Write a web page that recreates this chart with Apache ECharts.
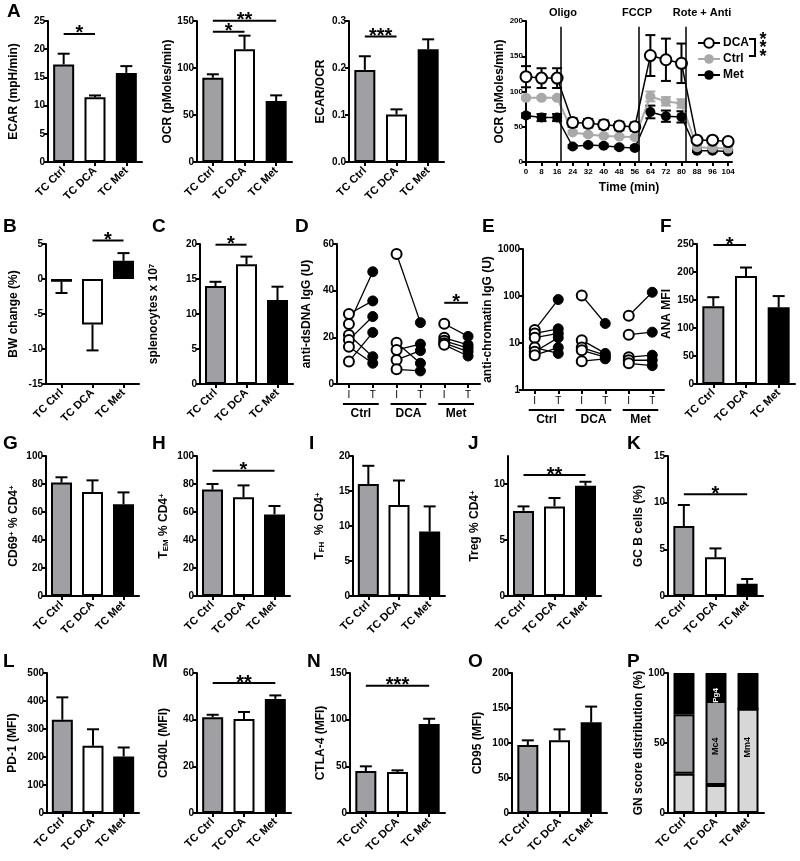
<!DOCTYPE html>
<html><head><meta charset="utf-8">
<script src="https://cdn.jsdelivr.net/npm/echarts@6/dist/echarts.min.js"></script>
<style>html,body{margin:0;padding:0;background:#fff}#c{width:800px;height:861px}</style>
</head><body><div id="c"></div>
<script>
const FONT = 'Liberation Sans, Arial, Helvetica, sans-serif';

// ---------- DATA ----------
const groups = ['TC Ctrl', 'TC DCA', 'TC Met'];

// A: ECAR, OCR, ECAR/OCR (mean, mean+SEM)
const ecarMean = [17.3, 11.5, 15.8];
const ecarUpper = [19.2, 11.8, 17.0];
const ecarSig = [[0, 1, 22.7, '*']];
const ocrMean = [89.7, 119.9, 64.9];
const ocrUpper = [93.3, 134.4, 70.9];
const ocrSig = [[0, 1, 138.6, '*'], [0, 2, 150.3, '**']];
const ratioMean = [0.196, 0.101, 0.240];
const ratioUpper = [0.225, 0.112, 0.261];
const ratioSig = [[0, 1, 0.267, '***']];

// A: Seahorse time course
const timePoints = [0, 8, 16, 24, 32, 40, 48, 56, 64, 72, 80, 88, 96, 104];
const dcaOcr = [121, 119, 119, 56, 55, 53, 51, 50, 151, 145, 140, 31, 31, 29];
const dcaSem = [15, 14, 14, 6, 6, 6, 6, 6, 29, 30, 28, 3, 3, 3];
const ctrlOcr = [91, 91, 91, 42, 39, 37, 36, 35, 93, 86, 83, 21, 20, 19];
const ctrlSem = [2, 2, 2, 2, 2, 2, 2, 2, 7, 6, 6, 2, 2, 2];
const metOcr = [66, 63, 63, 22, 24, 23, 21, 20, 71, 65, 64, 16, 16, 15];
const metSem = [3, 5, 5, 2, 2, 2, 2, 2, 9, 8, 8, 2, 2, 2];
const injectionTimes = [18, 58, 82];
const injectionNames = ['Oligo', 'FCCP', 'Rote + Anti'];
const timeLegend = ['DCA', 'Ctrl', 'Met'];

// B: body weight change
const bwMean = [-0.4, -6.5, 2.6];
const bwErrEnd = [-2.0, -10.2, 3.7];
const bwSig = [[1, 2, 5.5, '*']];
// C: splenocytes
const spleenMean = [14.0, 17.1, 12.0];
const spleenUpper = [14.6, 18.2, 13.9];
const spleenSig = [[0, 1, 19.9, '*']];
// D: anti-dsDNA (initial I, terminal T) per mouse
const pairCats = ['I', 'T', 'I', 'T', 'I', 'T'];
const pairGroups = ['Ctrl', 'DCA', 'Met'];
const dsdnaCtrlI = [30, 25.7, 21, 18.9, 16, 9.6];
const dsdnaCtrlT = [35.6, 48.1, 11.7, 28.9, 8.9, 22.1];
const dsdnaDcaI = [55.7, 17.7, 14.6, 10.3, 6.3];
const dsdnaDcaT = [26.3, 8.9, 17.1, 14.3, 5.6];
const dsdnaMetI = [25.8, 19.8, 18.5, 17.5, 16.8];
const dsdnaMetT = [20.4, 16.8, 15.4, 13.9, 12.0];
const dsdnaSig = [[4, 5, 34.8, '*']];
// E: anti-chromatin (log)
const chromCtrlI = [19, 16, 13, 8, 6.5, 5.5];
const chromCtrlT = [84, 20, 16, 6, 13, 8];
const chromDcaI = [103, 11.5, 8, 7, 4.1];
const chromDcaT = [26, 6, 5.5, 5, 4.6];
const chromMetI = [38, 15, 5, 4.3, 3.7];
const chromMetT = [120, 17, 5.5, 4.3, 3.3];
// F: ANA MFI
const anaMean = [139, 193, 137];
const anaUpper = [155, 208, 157];
const anaSig = [[0, 1, 248, '*']];
// G-K
const cd69Mean = [81, 74.3, 65.5];
const cd69Upper = [84.8, 82.6, 74];
const temMean = [76, 70.5, 58.3];
const temUpper = [80, 79, 64.3];
const temSig = [[0, 2, 89.5, '*']];
const tfhMean = [16, 13, 9.2];
const tfhUpper = [18.6, 16.5, 12.8];
const tregMean = [7.6, 8.0, 9.85];
const tregUpper = [8.0, 8.75, 10.2];
const tregSig = [[0, 2, 10.8, '**']];
const gcbMean = [7.5, 4.15, 1.3];
const gcbUpper = [9.75, 5.1, 1.82];
const gcbSig = [[0, 2, 10.9, '*']];
// L-P
const pd1Mean = [333, 240, 202];
const pd1Upper = [413, 299, 234];
const cd40lMean = [41, 40.3, 48.9];
const cd40lUpper = [42.1, 43.3, 50.4];
const cd40lSig = [[0, 2, 55.7, '**']];
const ctla4Mean = [45, 43.9, 95.4];
const ctla4Upper = [50, 45.7, 101];
const ctla4Sig = [[0, 2, 136.4, '***']];
const cd95Mean = [97, 104, 129.5];
const cd95Upper = [103.8, 119.5, 152];
const gnLow = [28, 20, 74.5];
const gnMid = [42.5, 60, 0];
const gnHigh = [29.5, 20, 25.5];
const gnLowLabels = ['', '', 'Mm4'];
const gnMidLabels = ['', 'Mc4', ''];
const gnHighLabels = ['', 'Pg4', ''];

// ---------- STYLE ----------
const FILL = ['#9f9fa4', '#ffffff', '#000000'];
const GN_COL = ['#d7d7d7', '#9f9fa4', '#000000'];
const AXL = {show: true, onZero: false, lineStyle: {color: '#000', width: 2}};
const TICK = {show: true, length: 4, lineStyle: {color: '#000', width: 2}};
const LBL = {color: '#000', fontSize: 10, fontWeight: 'bold', fontFamily: FONT, margin: 3};
const NAME = {color: '#000', fontSize: 12, fontWeight: 'bold', fontFamily: FONT,
  rich: {
    sup: {fontSize: 8, fontWeight: 'bold', fontFamily: FONT, verticalAlign: 'top', color: '#000'},
    sub: {fontSize: 8, fontWeight: 'bold', fontFamily: FONT, verticalAlign: 'bottom', color: '#000'}
  }};

const grids = [], xAxes = [], yAxes = [], series = [];
function addGrid(g) { grids.push(Object.assign({outerBoundsMode: 'none', containLabel: false}, g)); return grids.length - 1; }

function catX(gi, data, extra) {
  return Object.assign({gridIndex: gi, type: 'category', data: data, axisLine: AXL,
    axisTick: {show: true, alignWithLabel: true, length: 4, lineStyle: {color: '#000', width: 2}},
    axisLabel: {rotate: 45, interval: 0, fontSize: 11, fontWeight: 'bold', color: '#000', fontFamily: FONT, margin: 7},
    splitLine: {show: false}}, extra || {});
}
function valY(gi, p) {
  return {gridIndex: gi, type: p.log ? 'log' : 'value', logBase: 10, min: p.min, max: p.max, interval: p.interval,
    axisLine: AXL, axisTick: TICK, splitLine: {show: false},
    axisLabel: Object.assign({}, LBL, {formatter: p.fmt || (v => String(v)), showMaxLabel: p.hideMax ? false : null, fontSize: p.lblSize || 10}),
    name: p.name, nameLocation: 'middle', nameGap: p.nameGap, nameTextStyle: NAME};
}

function errSeries(gi, mean, upper, half) {
  half = half || 6;
  return {type: 'custom', xAxisIndex: gi, yAxisIndex: gi, z: 3, silent: true,
    data: mean.map((m, k) => [k, m, upper[k]]), encode: {x: 0, y: [1, 2]},
    renderItem: function (params, api) {
      const a = api.coord([api.value(0), api.value(1)]);
      const b = api.coord([api.value(0), api.value(2)]);
      return {type: 'group', children: [
        {type: 'line', shape: {x1: a[0], y1: a[1], x2: b[0], y2: b[1]}, style: {stroke: '#000', lineWidth: 2}},
        {type: 'line', shape: {x1: b[0] - half, y1: b[1], x2: b[0] + half, y2: b[1]}, style: {stroke: '#000', lineWidth: 2}}]};
    }};
}
function sigSeries(gi, sig) {
  return {type: 'custom', xAxisIndex: gi, yAxisIndex: gi, z: 4, silent: true,
    data: sig.map(s => [s[0], s[1], s[2]]), encode: {x: [0, 1], y: 2},
    renderItem: function (params, api) {
      const a = api.coord([api.value(0), api.value(2)]);
      const b = api.coord([api.value(1), api.value(2)]);
      return {type: 'group', children: [
        {type: 'line', shape: {x1: a[0], y1: a[1], x2: b[0], y2: b[1]}, style: {stroke: '#000', lineWidth: 2}},
        {type: 'text', style: {text: sig[params.dataIndex][3], x: (a[0] + b[0]) / 2, y: a[1], align: 'center', verticalAlign: 'middle',
          fontSize: 20, fontWeight: 'bold', fontFamily: FONT, fill: '#000'}}]};
    }};
}

function barPanel(lay, p) {
  const gi = addGrid(lay);
  xAxes.push(catX(gi, groups));
  yAxes.push(valY(gi, p));
  series.push({type: 'bar', xAxisIndex: gi, yAxisIndex: gi, barWidth: p.barWidth || 21,
    itemStyle: {borderColor: '#000', borderWidth: 2},
    data: p.mean.map((v, k) => ({value: v, itemStyle: {color: FILL[k]}}))});
  series.push(errSeries(gi, p.mean, p.upper));
  if (p.sig) series.push(sigSeries(gi, p.sig));
  return gi;
}

// ---------- LAYOUT ----------
const L = {
  ecar: {left: 48, top: 21, width: 94, height: 141},
  ocr: {left: 197, top: 21, width: 95, height: 141},
  ratio: {left: 349, top: 21, width: 95, height: 141},
  time: {left: 526, top: 21, width: 206, height: 141},
  bw: {left: 46, top: 244, width: 93, height: 140},
  spleen: {left: 200, top: 244, width: 93, height: 140},
  dsdna: {left: 337, top: 244, width: 143, height: 140},
  chrom: {left: 523, top: 249, width: 141, height: 141},
  ana: {left: 697, top: 244, width: 98, height: 140},
  cd69: {left: 46, top: 456, width: 93, height: 140},
  tem: {left: 197, top: 456, width: 93, height: 140},
  tfh: {left: 353, top: 456, width: 92, height: 140},
  treg: {left: 508, top: 456, width: 93, height: 140},
  gcb: {left: 668, top: 456, width: 95, height: 140},
  pd1: {left: 47, top: 673, width: 92, height: 140},
  cd40l: {left: 197, top: 673, width: 94, height: 140},
  ctla4: {left: 350, top: 673, width: 95, height: 140},
  cd95: {left: 512, top: 673, width: 95, height: 140},
  gn: {left: 668, top: 673, width: 96, height: 140}
};

// Row A bars
barPanel(L.ecar, {mean: ecarMean, upper: ecarUpper, sig: ecarSig, min: 0, max: 25, interval: 5, name: 'ECAR (mpH/min)', nameGap: 28});
barPanel(L.ocr, {mean: ocrMean, upper: ocrUpper, sig: ocrSig, min: 0, max: 150, interval: 50, name: 'OCR (pMoles/min)', nameGap: 21});
barPanel(L.ratio, {mean: ratioMean, upper: ratioUpper, sig: ratioSig, min: 0, max: 0.3, interval: 0.1, fmt: v => v.toFixed(1), name: 'ECAR/OCR', nameGap: 22});

// Row A time course
(function () {
  const gi = addGrid(L.time);
  xAxes.push({gridIndex: gi, type: 'value', min: 0, max: 106, interval: 8, axisLine: AXL, axisTick: TICK, splitLine: {show: false},
    axisLabel: Object.assign({}, LBL, {fontSize: 8, margin: 6, showMaxLabel: false}),
    name: 'Time (min)', nameLocation: 'middle', nameGap: 20, nameTextStyle: NAME});
  yAxes.push(valY(gi, {min: 0, max: 200, interval: 50, lblSize: 8, name: 'OCR (pMoles/min)', nameGap: 18}));
  function symErr(mean, sem, color) {
    return {type: 'custom', xAxisIndex: gi, yAxisIndex: gi, z: 2, silent: true,
      data: timePoints.map((t, k) => [t, mean[k] - sem[k], mean[k] + sem[k]]), encode: {x: 0, y: [1, 2]},
      renderItem: function (params, api) {
        const a = api.coord([api.value(0), api.value(1)]);
        const b = api.coord([api.value(0), api.value(2)]);
        const st = {stroke: color, lineWidth: 2};
        return {type: 'group', children: [
          {type: 'line', shape: {x1: a[0], y1: a[1], x2: b[0], y2: b[1]}, style: st},
          {type: 'line', shape: {x1: a[0] - 5, y1: a[1], x2: a[0] + 5, y2: a[1]}, style: st},
          {type: 'line', shape: {x1: b[0] - 5, y1: b[1], x2: b[0] + 5, y2: b[1]}, style: st}]};
      }};
  }
  series.push(symErr(metOcr, metSem, '#000'));
  series.push(symErr(ctrlOcr, ctrlSem, '#a9a9a9'));
  series.push(symErr(dcaOcr, dcaSem, '#000'));
  series.push({name: timeLegend[2], type: 'line', xAxisIndex: gi, yAxisIndex: gi, z: 3, symbol: 'circle', symbolSize: 10,
    data: timePoints.map((t, k) => [t, metOcr[k]]), itemStyle: {color: '#000'}, lineStyle: {color: '#000', width: 1.5}});
  series.push({name: timeLegend[1], type: 'line', xAxisIndex: gi, yAxisIndex: gi, z: 3, symbol: 'circle', symbolSize: 10,
    data: timePoints.map((t, k) => [t, ctrlOcr[k]]), itemStyle: {color: '#a9a9a9'}, lineStyle: {color: '#a9a9a9', width: 2}});
  series.push({name: timeLegend[0], type: 'line', xAxisIndex: gi, yAxisIndex: gi, z: 4, symbol: 'circle', symbolSize: 11,
    data: timePoints.map((t, k) => [t, dcaOcr[k]]), itemStyle: {color: '#fff', borderColor: '#000', borderWidth: 2},
    lineStyle: {color: '#000', width: 1.5},
    markLine: {silent: true, symbol: ['none', 'none'], label: {show: false}, lineStyle: {color: '#000', width: 1.5, type: 'solid'},
      data: injectionTimes.map(t => [{coord: [t, 0]}, {coord: [t, 192]}])}});
})();

// Row B
barPanel(L.bw, {mean: bwMean, upper: bwErrEnd, sig: bwSig, min: -15, max: 5, interval: 5, name: 'BW change (%)', nameGap: 26});
barPanel(L.spleen, {mean: spleenMean, upper: spleenUpper, sig: spleenSig, min: 0, max: 20, interval: 5, name: 'splenocytes x 10{sup|7}', nameGap: 40});

function pairPanel(lay, p) {
  const gi = addGrid(lay);
  xAxes.push(catX(gi, pairCats, {axisLabel: {rotate: 0, interval: 0, fontSize: 10, fontWeight: 'normal', color: '#000', fontFamily: FONT, margin: 6}}));
  yAxes.push(valY(gi, p));
  p.sets.forEach((s, g) => {
    s[0].forEach((vi, m) => {
      series.push({type: 'line', xAxisIndex: gi, yAxisIndex: gi, symbol: 'circle', symbolSize: 10, z: 3,
        lineStyle: {color: '#000', width: 1.3}, itemStyle: {color: '#000'},
        data: [
          {value: [2 * g, vi], itemStyle: {color: '#fff', borderColor: '#000', borderWidth: 2}},
          {value: [2 * g + 1, s[1][m]], itemStyle: {color: '#000', borderColor: '#000', borderWidth: 1}}
        ]});
    });
  });
  const base = p.min;
  series.push({type: 'custom', xAxisIndex: gi, yAxisIndex: gi, silent: true,
    data: pairGroups.map((n, g) => [2 * g, 2 * g + 1, base]), encode: {x: [0, 1], y: 2},
    renderItem: function (params, api) {
      const a = api.coord([api.value(0), api.value(2)]);
      const b = api.coord([api.value(1), api.value(2)]);
      const y = a[1] + 20;
      return {type: 'group', children: [
        {type: 'line', shape: {x1: a[0] - 6, y1: y, x2: b[0] + 6, y2: y}, style: {stroke: '#000', lineWidth: 2}},
        {type: 'text', style: {text: pairGroups[params.dataIndex], x: (a[0] + b[0]) / 2, y: y + 4, align: 'center', verticalAlign: 'top',
          fontSize: 12, fontWeight: 'bold', fontFamily: FONT, fill: '#000'}}]};
    }});
  if (p.sig) series.push(sigSeries(gi, p.sig));
}
pairPanel(L.dsdna, {min: 0, max: 60, interval: 20, name: 'anti-dsDNA IgG (U)', nameGap: 24, sig: dsdnaSig,
  sets: [[dsdnaCtrlI, dsdnaCtrlT], [dsdnaDcaI, dsdnaDcaT], [dsdnaMetI, dsdnaMetT]]});
pairPanel(L.chrom, {log: true, min: 1, max: 1000, name: 'anti-chromatin IgG (U)', nameGap: 21,
  sets: [[chromCtrlI, chromCtrlT], [chromDcaI, chromDcaT], [chromMetI, chromMetT]]});

barPanel(L.ana, {mean: anaMean, upper: anaUpper, sig: anaSig, min: 0, max: 250, interval: 50, name: 'ANA MFI', nameGap: 24, barWidth: 22});

// Row G-K
barPanel(L.cd69, {mean: cd69Mean, upper: cd69Upper, min: 0, max: 100, interval: 20, name: 'CD69{sup|+} % CD4{sup|+}', nameGap: 26});
barPanel(L.tem, {mean: temMean, upper: temUpper, sig: temSig, min: 0, max: 100, interval: 20, name: 'T{sub|EM} % CD4{sup|+}', nameGap: 27});
barPanel(L.tfh, {mean: tfhMean, upper: tfhUpper, min: 0, max: 20, interval: 5, name: 'T{sub|FH}  % CD4{sup|+}', nameGap: 27});
barPanel(L.treg, {mean: tregMean, upper: tregUpper, sig: tregSig, min: 0, max: 12.5, interval: 5, hideMax: true, name: 'Treg % CD4{sup|+}', nameGap: 27});
barPanel(L.gcb, {mean: gcbMean, upper: gcbUpper, sig: gcbSig, min: 0, max: 15, interval: 5, name: 'GC B cells (%)', nameGap: 23});

// Row L-P
barPanel(L.pd1, {mean: pd1Mean, upper: pd1Upper, min: 0, max: 500, interval: 100, name: 'PD-1 (MFI)', nameGap: 28});
barPanel(L.cd40l, {mean: cd40lMean, upper: cd40lUpper, sig: cd40lSig, min: 0, max: 60, interval: 20, name: 'CD40L (MFI)', nameGap: 27});
barPanel(L.ctla4, {mean: ctla4Mean, upper: ctla4Upper, sig: ctla4Sig, min: 0, max: 150, interval: 50, name: 'CTLA-4 (MFI)', nameGap: 20});
barPanel(L.cd95, {mean: cd95Mean, upper: cd95Upper, min: 0, max: 200, interval: 50, name: 'CD95 (MFI)', nameGap: 28});

(function () {
  const gi = addGrid(L.gn);
  xAxes.push(catX(gi, groups));
  yAxes.push(valY(gi, {min: 0, max: 100, interval: 50, name: 'GN score distribution (%)', nameGap: 15}));
  const parts = [[gnLow, gnLowLabels, '#000', 9, '37%'], [gnMid, gnMidLabels, '#000', 9, '54%'], [gnHigh, gnHighLabels, '#fff', 8, '80%']];
  parts.forEach((pt, s) => {
    series.push({type: 'bar', stack: 'gn', xAxisIndex: gi, yAxisIndex: gi, barWidth: 21,
      itemStyle: {color: GN_COL[s], borderColor: '#000', borderWidth: 2},
      data: pt[0].map((v, k) => ({value: v, label: {show: !!pt[1][k], formatter: pt[1][k], rotate: 90, position: ['50%', pt[4]],
        align: 'center', verticalAlign: 'middle', fontSize: pt[3], fontWeight: 'bold', color: pt[2], fontFamily: FONT}}))});
  });
})();

// ---------- ANNOTATIONS ----------
const letters = [['A', 7, 2], ['B', 3, 217], ['C', 152, 217], ['D', 295, 217], ['E', 482, 217], ['F', 660, 217],
  ['G', 3, 434], ['H', 152, 434], ['I', 309, 434], ['J', 468, 434], ['K', 627, 434],
  ['L', 3, 652], ['M', 152, 652], ['N', 307, 652], ['O', 468, 652], ['P', 627, 652]];
const graphic = letters.map(l => ({type: 'text', left: l[1], top: l[2], silent: true,
  style: {text: l[0], fontSize: 19, fontWeight: 'bold', fontFamily: FONT, fill: '#000'}}));
const injLabelX = [563, 637, 702];
injectionNames.forEach((n, i) => graphic.push({type: 'text', silent: true,
  style: {text: n, x: injLabelX[i], y: 13, align: 'center', verticalAlign: 'middle', fontSize: 11, fontWeight: 'bold', fontFamily: FONT, fill: '#000'}}));
graphic.push({type: 'polyline', silent: true, shape: {points: [[749, 39], [755, 39], [755, 56], [749, 56]]}, style: {stroke: '#000', lineWidth: 2, fill: null}});
[39, 47.5, 56].forEach(y => graphic.push({type: 'text', silent: true,
  style: {text: '*', x: 763, y: y + 1, align: 'center', verticalAlign: 'middle', fontSize: 18, fontWeight: 'bold', fontFamily: FONT, fill: '#000'}}));

const chart = echarts.init(document.getElementById('c'), null, {renderer: 'canvas', width: 800, height: 861});
chart.setOption({
  animation: false, backgroundColor: '#fff', textStyle: {fontFamily: FONT},
  grid: grids, xAxis: xAxes, yAxis: yAxes, series: series, graphic: graphic,
  legend: {data: timeLegend, orient: 'vertical', left: 692, top: 32, itemWidth: 22, itemHeight: 12, itemGap: 4, selectedMode: false,
    textStyle: {fontSize: 12, fontWeight: 'bold', color: '#000', fontFamily: FONT, padding: [0, 0, 0, -2]}}
});
</script></body></html>
